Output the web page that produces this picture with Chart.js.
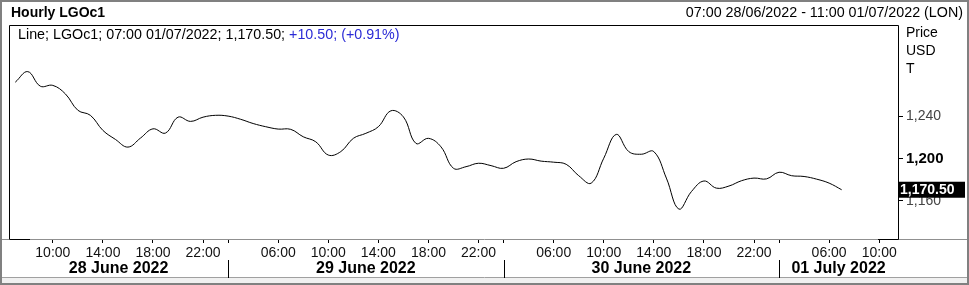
<!DOCTYPE html>
<html>
<head>
<meta charset="utf-8">
<script src="https://cdn.jsdelivr.net/npm/chart.js@4.4.1/dist/chart.umd.min.js"></script>
<style>
  html, body { margin: 0; padding: 0; background: #fff; }
  canvas { display: block; }
</style>
</head>
<body>
<canvas id="lgoChart" width="969" height="285"></canvas>
<script>
// hourly sessions per day (first and last hour shown on the axis)
const days = ["28 June 2022", "29 June 2022", "30 June 2022", "01 July 2022"];
const dayFirstHour = [7, 1, 1, 1];
const dayLastHour = [22, 22, 22, 11];

// hourly closes, 07:00 28/06 -> 07:00 01/07
const prices = [
    1272.00, 1282.00, 1268.25, 1269.00, 1261.00, 1245.50, 1240.75, 1226.50, 1218.00, 1210.75,
    1219.25, 1228.00, 1224.00, 1239.00, 1235.00, 1239.00, 1240.75, 1240.00, 1237.00, 1233.00,
    1230.00, 1227.75, 1227.50, 1220.50, 1215.75, 1203.25, 1206.50, 1219.00, 1223.75, 1230.00,
    1245.00, 1239.25, 1214.25, 1219.00, 1211.00, 1190.75, 1192.25, 1195.50, 1193.25, 1190.75,
    1197.00, 1199.50, 1197.50, 1196.50, 1194.50, 1183.75, 1176.75, 1200.25, 1222.75, 1206.50,
    1204.00, 1206.50, 1181.50, 1152.25, 1168.75, 1178.75, 1172.00, 1174.00, 1179.00, 1181.50,
    1180.75, 1187.00, 1183.75, 1183.00, 1180.50, 1176.75, 1170.50
];

const yTicks = [1160, 1200, 1240];
const yMin = 1124;
const yMax = 1326;
const labelHours = [6, 10, 14, 18, 22];
const dayMarkHour = 2;

const title = "Hourly LGOc1";
const period = "07:00 28/06/2022 - 11:00 01/07/2022 (LON)";
const legendMain = "Line; LGOc1; 07:00 01/07/2022; 1,170.50; ";
const legendChange = "+10.50; (+0.91%)";
const unitLines = ["Price", "USD", "T"];

// build the hour labels and the day of each slot
const hourLabels = [];
const slotDay = [];
days.forEach((d, di) => {
    for (let h = dayFirstHour[di]; h <= dayLastHour[di]; h++) {
        hourLabels.push(String(h).padStart(2, "0") + ":00");
        slotDay.push(di);
    }
});
const hourOf = i => parseInt(hourLabels[i], 10);
const dayStarts = [];
for (let i = 1; i < hourLabels.length; i++) {
    if (slotDay[i] !== slotDay[i - 1]) {
        // day mark sits on the 02:00 slot
        const m = hourLabels.findIndex((l, k) => slotDay[k] === slotDay[i] && hourOf(k) === dayMarkHour);
        dayStarts.push(m);
    }
}

const FONT = "'Liberation Sans', Arial, sans-serif";
Chart.defaults.font.family = FONT;

const framePlugin = {
    id: "frame",
    beforeDraw(chart) {
        const c = chart.ctx;
        c.save();
        c.fillStyle = "#fff";
        c.fillRect(0, 0, chart.width, chart.height);
        c.restore();
    },
    afterDraw(chart) {
        const c = chart.ctx;
        const a = chart.chartArea;
        const x = chart.scales.x;
        const y = chart.scales.y;
        c.save();

        // outer frame + bottom band
        c.fillStyle = "#f0f0f0";
        c.fillRect(0, 278, chart.width, chart.height - 278);
        c.strokeStyle = "#a0a0a0";
        c.lineWidth = 1;
        c.beginPath();
        c.moveTo(0, 277.5); c.lineTo(chart.width, 277.5);
        c.stroke();
        c.strokeStyle = "#808080";
        c.lineWidth = 2;
        c.strokeRect(1, 1, chart.width - 2, chart.height - 2);

        // header
        c.fillStyle = "#000";
        c.textBaseline = "middle";
        c.font = "bold 14px " + FONT;
        c.textAlign = "left";
        c.fillText(title, 11, 13);
        c.font = "14.3px " + FONT;
        c.textAlign = "right";
        c.fillText(period, 963, 13);

        // plot box
        c.lineWidth = 1;
        c.strokeStyle = "#909090";
        c.beginPath();
        c.moveTo(2, a.bottom + 0.5); c.lineTo(chart.width - 2, a.bottom + 0.5);
        c.stroke();
        c.strokeStyle = "#000";
        c.beginPath();
        c.moveTo(a.left + 0.5, a.bottom);
        c.lineTo(a.left + 0.5, a.top + 0.5);
        c.lineTo(a.right + 0.5, a.top + 0.5);
        c.lineTo(a.right + 0.5, a.bottom + 0.5);
        c.lineTo(a.right - 20, a.bottom + 0.5);
        c.moveTo(a.left + 0.5, a.bottom + 0.5);
        c.lineTo(a.left + 21, a.bottom + 0.5);
        c.stroke();

        // legend line
        c.textAlign = "left";
        c.font = "14.3px " + FONT;
        c.fillStyle = "#000";
        c.fillText(legendMain, 18, 35);
        const w = c.measureText(legendMain).width;
        c.fillStyle = "#2b2bd6";
        c.fillText(legendChange, 18 + w, 35);

        // units
        c.font = "14px " + FONT;
        c.fillStyle = "#000";
        unitLines.forEach((t, i) => c.fillText(t, a.right + 8, 33 + i * 18));

        // last value tag
        const last = prices[prices.length - 1];
        const ly = y.getPixelForValue(last);
        c.fillStyle = "#000";
        c.fillRect(a.right, ly - 8, 67, 16);
        c.fillStyle = "#fff";
        c.font = "bold 14px " + FONT;
        c.fillText(last.toLocaleString("en-US", { minimumFractionDigits: 2 }), a.right + 2, ly + 0.5);

        // day separators and labels
        const bounds = [a.left, ...dayStarts.map(i => x.getPixelForValue(i)), a.right];
        c.strokeStyle = "#000";
        c.beginPath();
        dayStarts.forEach(i => {
            const px = Math.round(x.getPixelForValue(i)) + 0.5;
            c.moveTo(px, 260); c.lineTo(px, 278);
        });
        c.stroke();
        c.fillStyle = "#000";
        c.textAlign = "center";
        c.font = "bold 16px " + FONT;
        days.forEach((d, i) => c.fillText(d, (bounds[i] + bounds[i + 1]) / 2, 269));

        c.restore();
    }
};

new Chart(document.getElementById("lgoChart"), {
    type: "line",
    data: {
        labels: hourLabels,
        datasets: [{
            data: prices,
            borderColor: "#000",
            borderWidth: 1,
            pointRadius: 0,
            tension: 0.4,
            fill: false
        }]
    },
    options: {
        responsive: false,
        animation: false,
        layout: { padding: { left: 9, top: 25, right: 0, bottom: 0 } },
        plugins: {
            legend: { display: false },
            tooltip: { enabled: false }
        },
        scales: {
            x: {
                type: "category",
                offset: true,
                border: { display: false },
                grid: {
                    drawOnChartArea: false,
                    drawTicks: true,
                    tickLength: 4,
                    tickColor: "#000",
                    offset: false
                },
                afterBuildTicks(scale) {
                    scale.ticks = scale.ticks.filter(t => {
                        const h = hourOf(t.value);
                        return labelHours.includes(h) || dayStarts.includes(t.value);
                    });
                },
                afterFit(scale) { scale.height = 46; },
                ticks: {
                    autoSkip: false,
                    maxRotation: 0,
                    padding: 2,
                    color: "#111",
                    font: { size: 14 },
                    callback(value) {
                        return dayStarts.includes(value) ? "" : this.getLabelForValue(value);
                    }
                }
            },
            y: {
                position: "right",
                min: yMin,
                max: yMax,
                border: { display: false },
                grid: {
                    drawOnChartArea: false,
                    drawTicks: true,
                    tickLength: 5,
                    tickColor: "#000"
                },
                afterBuildTicks(scale) {
                    scale.ticks = yTicks.map(v => ({ value: v }));
                },
                afterFit(scale) { scale.width = 71; },
                ticks: {
                    padding: 3,
                    color: ctx => ctx.tick && ctx.tick.value === 1200 ? "#000" : "#444",
                    font: ctx => ctx.tick && ctx.tick.value === 1200
                        ? { size: 15, weight: "bold" }
                        : { size: 14 },
                    callback: v => v.toLocaleString("en-US")
                }
            }
        }
    },
    plugins: [framePlugin]
});
</script>
</body>
</html>
